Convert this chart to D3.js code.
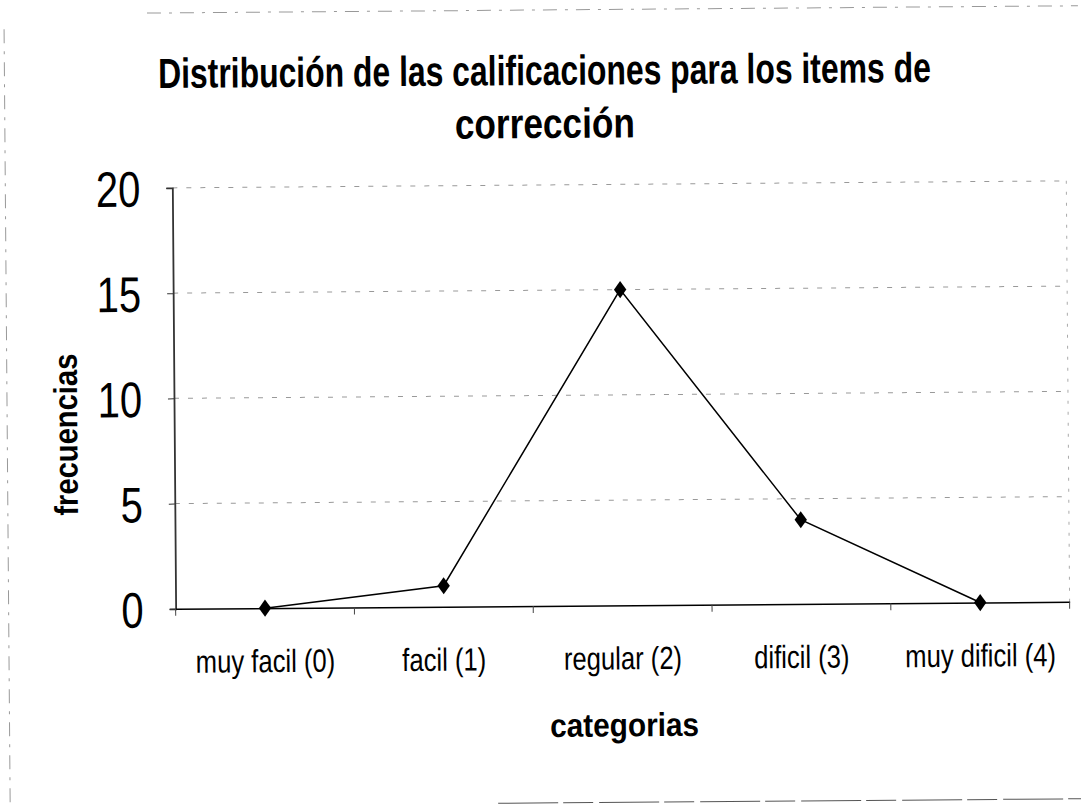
<!DOCTYPE html>
<html><head><meta charset="utf-8">
<script src="https://cdn.jsdelivr.net/npm/d3@7"></script>
<style>
html,body{margin:0;padding:0;background:#fff;}
svg text{font-family:"Liberation Sans Narrow","Arial Narrow","Liberation Sans",Arial,sans-serif;fill:#000;}
</style></head>
<body>
<svg id="chart" width="1081" height="809"></svg>
<script>
const categories = ["muy facil (0)", "facil (1)", "regular (2)", "dificil (3)", "muy dificil (4)"];
const frecuencias = [0, 1, 15, 4, 0];
const yTicks = [0, 5, 10, 15, 20];
const titleLines = ["Distribución de las calificaciones para los items de", "corrección"];
const xTitle = "categorias";
const yTitle = "frecuencias";

const svg = d3.select("#chart");
// slight scan tilt
const g = svg.append("g").attr("transform","rotate(-0.45,540,400)");
const m = {left:174, right:1068, top:185, bottom:606};

const x = d3.scaleBand().domain(categories).range([m.left, m.right]);
const y = d3.scaleLinear().domain([0,20]).range([m.bottom, m.top]);

// fit a text element horizontally to a width (condensed font emulation)
function fit(sel, cx, cy, width, rot) {
  const w = sel.node().getComputedTextLength();
  sel.attr("x",0).attr("y",0).attr("text-anchor","middle")
     .attr("transform",`translate(${cx},${cy})${rot?` rotate(${rot})`:""} scale(${width/w},1)`);
}

// scan-like page border
const border = g.append("g").attr("stroke","#999").attr("stroke-width",1).attr("stroke-dasharray","14,8,3,8").attr("fill","none");
border.append("line").attr("x1",150).attr("x2",1081).attr("y1",10).attr("y2",10);
border.append("line").attr("x1",7).attr("x2",7).attr("y1",25).attr("y2",809);
border.append("line").attr("x1",495).attr("x2",1081).attr("y1",803).attr("y2",803).attr("stroke","#555").attr("stroke-dasharray","60,5,30,6");

// gridlines
g.append("g").selectAll("line").data(yTicks.filter(d=>d>0)).join("line")
  .attr("x1",m.left).attr("x2",m.right)
  .attr("y1",d=>y(d)).attr("y2",d=>y(d))
  .attr("stroke","#999").attr("stroke-width",1).attr("stroke-dasharray","5,9");
// right border (dotted)
g.append("line").attr("x1",m.right).attr("x2",m.right).attr("y1",m.top).attr("y2",m.bottom)
  .attr("stroke","#aaa").attr("stroke-dasharray","3,8");

// y axis
const yAxis = g.append("g").attr("transform",`translate(${m.left},0)`)
  .call(d3.axisLeft(y).tickValues(yTicks).tickSize(6).tickPadding(32).tickFormat(d3.format("d")));
yAxis.select(".domain").attr("stroke","#333").attr("stroke-width",1.8);
yAxis.selectAll(".tick line").attr("stroke","#333");
yAxis.selectAll(".tick text").style("font-size","50px").attr("dy","0.36em")
  .attr("transform","scale(0.8,1)").attr("x",-32/0.8);

// x axis
const xAxis = g.append("g").attr("transform",`translate(0,${m.bottom})`)
  .call(d3.axisBottom(x).tickSize(0).tickPadding(0));
xAxis.select(".domain").attr("stroke","#000").attr("stroke-width",1.5);
xAxis.selectAll(".tick text").style("font-size","32px").attr("y",64).attr("dy",0)
  .attr("transform","scale(0.8,1)");
// tick marks between categories
const bounds = categories.map(c=>x(c)).concat([m.right]);
g.append("g").selectAll("line").data(bounds).join("line")
  .attr("x1",d=>d).attr("x2",d=>d).attr("y1",m.bottom).attr("y2",m.bottom+7)
  .attr("stroke","#444").attr("stroke-width",1);

// line
const cx = d=>x(d)+x.bandwidth()/2;
const pts = categories.map((c,i)=>[c,frecuencias[i]]);
g.append("path").datum(pts)
  .attr("fill","none").attr("stroke","#000").attr("stroke-width",1.5)
  .attr("d", d3.line().x(d=>cx(d[0])).y(d=>y(d[1])));
g.append("g").selectAll("path").data(pts).join("path")
  .attr("d", d3.symbol().type(d3.symbolDiamond).size(85))
  .attr("transform", d=>`translate(${cx(d[0])},${y(d[1])}) scale(1.25,1)`)
  .attr("fill","#000");

// titles
const tw = [773, 180];
g.append("g").selectAll("text").data(titleLines).join("text")
  .style("font-size","42px").style("font-weight","bold")
  .text(d=>d)
  .each(function(d,i){ fit(d3.select(this), 547, 85+i*53, tw[i]); });
fit(g.append("text").style("font-size","33px").style("font-weight","bold").text(xTitle), 622, 737, 149);
fit(g.append("text").style("font-size","33px").style("font-weight","bold").text(yTitle), 77, 431, 162, -90);
</script>
</body></html>
